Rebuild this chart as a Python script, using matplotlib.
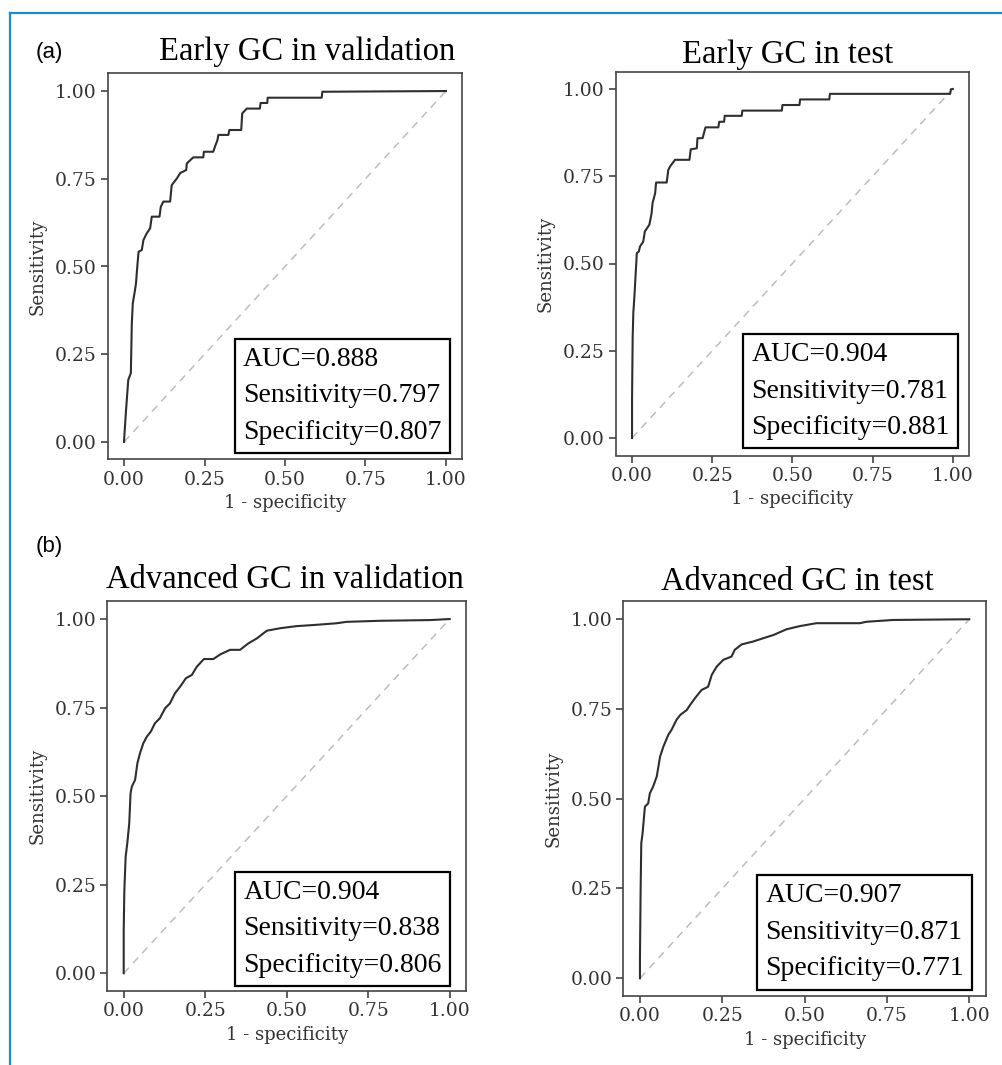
import matplotlib
matplotlib.use("Agg")
import matplotlib.pyplot as plt
from matplotlib.lines import Line2D

W, H = 1003, 1065

# ROC curves (1 - specificity, sensitivity)
fpr_early_val = [0.0, 0.0, 0.006, 0.013, 0.021, 0.024, 0.027, 0.034, 0.037, 0.041, 0.045, 0.055, 0.06,
                 0.07, 0.081, 0.086, 0.11, 0.114, 0.122, 0.143, 0.148, 0.164, 0.174, 0.193, 0.195, 0.215,
                 0.246, 0.248, 0.277, 0.283, 0.29, 0.293, 0.324, 0.327, 0.364, 0.367, 0.381, 0.422, 0.424,
                 0.445, 0.446, 0.614, 0.616, 1.0]
tpr_early_val = [0.0, 0.006, 0.09, 0.177, 0.196, 0.338, 0.395, 0.433, 0.452, 0.50, 0.542, 0.547, 0.575,
                 0.594, 0.609, 0.642, 0.642, 0.67, 0.685, 0.685, 0.732, 0.751, 0.766, 0.775, 0.794, 0.811,
                 0.811, 0.827, 0.827, 0.843, 0.86, 0.875, 0.875, 0.889, 0.889, 0.936, 0.95, 0.95, 0.966,
                 0.966, 0.981, 0.981, 0.998, 1.0]

fpr_early_test = [0.0, 0.0, 0.002, 0.004, 0.008, 0.012, 0.015, 0.021, 0.025, 0.035, 0.04, 0.054, 0.061,
                  0.064, 0.072, 0.075, 0.108, 0.113, 0.12, 0.134, 0.179, 0.183, 0.202, 0.204, 0.22, 0.229,
                  0.269, 0.272, 0.287, 0.289, 0.342, 0.344, 0.467, 0.469, 0.522, 0.524, 0.615, 0.617,
                  0.992, 0.994, 1.0]
tpr_early_test = [0.0, 0.11, 0.29, 0.358, 0.415, 0.482, 0.53, 0.534, 0.549, 0.563, 0.592, 0.611, 0.644,
                  0.673, 0.701, 0.732, 0.732, 0.768, 0.78, 0.797, 0.797, 0.827, 0.83, 0.859, 0.859, 0.89,
                  0.89, 0.906, 0.906, 0.923, 0.923, 0.938, 0.938, 0.954, 0.954, 0.97, 0.97, 0.986,
                  0.986, 0.999, 1.0]

fpr_adv_val = [0.0, 0.0, 0.002, 0.006, 0.011, 0.017, 0.021, 0.025, 0.035, 0.042, 0.05, 0.06, 0.071, 0.083,
               0.096, 0.111, 0.127, 0.142, 0.157, 0.173, 0.191, 0.209, 0.224, 0.246, 0.275, 0.296, 0.326,
               0.357, 0.382, 0.408, 0.439, 0.48, 0.531, 0.582, 0.653, 0.684, 0.786, 0.94, 1.0]
tpr_adv_val = [0.0, 0.122, 0.235, 0.329, 0.367, 0.423, 0.508, 0.527, 0.546, 0.593, 0.621, 0.649, 0.668,
               0.682, 0.706, 0.72, 0.748, 0.762, 0.79, 0.809, 0.833, 0.842, 0.865, 0.887, 0.887, 0.9,
               0.913, 0.913, 0.931, 0.945, 0.967, 0.974, 0.98, 0.983, 0.988, 0.992, 0.995, 0.997, 1.0]

fpr_adv_test = [0.0, 0.0, 0.002, 0.004, 0.008, 0.015, 0.025, 0.03, 0.04, 0.051, 0.061, 0.071, 0.086, 0.096,
                0.111, 0.123, 0.142, 0.152, 0.167, 0.187, 0.207, 0.218, 0.233, 0.253, 0.278, 0.288, 0.309,
                0.344, 0.374, 0.405, 0.445, 0.486, 0.536, 0.668, 0.688, 0.769, 1.0]
tpr_adv_test = [0.0, 0.06, 0.246, 0.376, 0.404, 0.478, 0.487, 0.515, 0.534, 0.562, 0.617, 0.645, 0.678,
                0.692, 0.72, 0.734, 0.747, 0.761, 0.78, 0.803, 0.812, 0.845, 0.868, 0.887, 0.896, 0.915,
                0.93, 0.938, 0.947, 0.956, 0.972, 0.981, 0.989, 0.989, 0.993, 0.998, 1.0]

titles = ["Early GC in validation", "Early GC in test",
          "Advanced GC in validation", "Advanced GC in test"]
auc = ["0.888", "0.904", "0.904", "0.907"]
sens = ["0.797", "0.781", "0.838", "0.871"]
spec = ["0.807", "0.881", "0.806", "0.771"]
ticks = [0, 0.25, 0.5, 0.75, 1.0]
tick_labels = ["0.00", "0.25", "0.50", "0.75", "1.00"]

curves = [(fpr_early_val, tpr_early_val), (fpr_early_test, tpr_early_test),
          (fpr_adv_val, tpr_adv_val), (fpr_adv_test, tpr_adv_test)]

# layout in pixels: axes left, top, width, height / title centre x, baseline y / box anchor
axes_px = [(108, 73.5, 354, 386), (616, 71.5, 352.8, 384),
           (107.4, 601.3, 358.6, 389.7), (623.5, 601.3, 362.2, 394.9)]
title_px = [(307, 60), (788, 63), (285, 588), (797, 590)]
box_pos = [(0.382, 0.038), (0.384, 0.040), (0.379, 0.034), (0.392, 0.038)]

fig = plt.figure(figsize=(W / 100, H / 100), dpi=100)
fig.patch.set_facecolor("white")

for i in range(4):
    l, t, w, h = axes_px[i]
    ax = fig.add_axes([l / W, 1 - (t + h) / H, w / W, h / H])
    ax.plot([0, 1], [0, 1], color="#bdbdbd", lw=1.1, dashes=(5, 4))
    ax.plot(curves[i][0], curves[i][1], color="#2e2e2e", lw=1.5)
    ax.set_xlim(-0.05, 1.05)
    ax.set_ylim(-0.05, 1.05)
    ax.set_xticks(ticks)
    ax.set_yticks(ticks)
    ax.set_xticklabels(tick_labels)
    ax.set_yticklabels(tick_labels)
    ax.tick_params(direction="out", length=5, width=1.1, color="#333333",
                   labelsize=13.5, labelcolor="#333333", pad=3)
    for lab in ax.get_xticklabels() + ax.get_yticklabels():
        lab.set_family("DejaVu Serif")
    for s in ax.spines.values():
        s.set_color("#444444")
        s.set_linewidth(1.2)
    ax.set_xlabel("1 - specificity", family="DejaVu Serif", fontsize=13, color="#333333", labelpad=4)
    ax.set_ylabel("Sensitivity", family="DejaVu Serif", fontsize=13, color="#333333", labelpad=6)
    txt = "AUC=" + auc[i] + "\nSensitivity=" + sens[i] + "\nSpecificity=" + spec[i]
    ax.text(box_pos[i][0], box_pos[i][1], txt, transform=ax.transAxes, ha="left", va="bottom",
            family="Liberation Serif", fontsize=20, linespacing=1.6,
            bbox=dict(boxstyle="square,pad=0.3", fc="white", ec="black", lw=1.6))
    fig.text(title_px[i][0] / W, 1 - title_px[i][1] / H, titles[i], ha="center", va="baseline",
             family="Liberation Serif", fontsize=23.5)

fig.text(36 / W, 1 - 58 / H, "(a)", family="Liberation Sans", fontsize=16, va="baseline")
fig.text(36 / W, 1 - 552 / H, "(b)", family="Liberation Sans", fontsize=16, va="baseline")

# blue frame on top and left
fig.add_artist(Line2D([10 / W, 1.0], [1 - 13 / H, 1 - 13 / H], color="#1a8cc8", lw=1.6))
fig.add_artist(Line2D([10 / W, 10 / W], [0.0, 1 - 13 / H], color="#1a8cc8", lw=1.6))

fig.savefig("out.png", dpi=100)
